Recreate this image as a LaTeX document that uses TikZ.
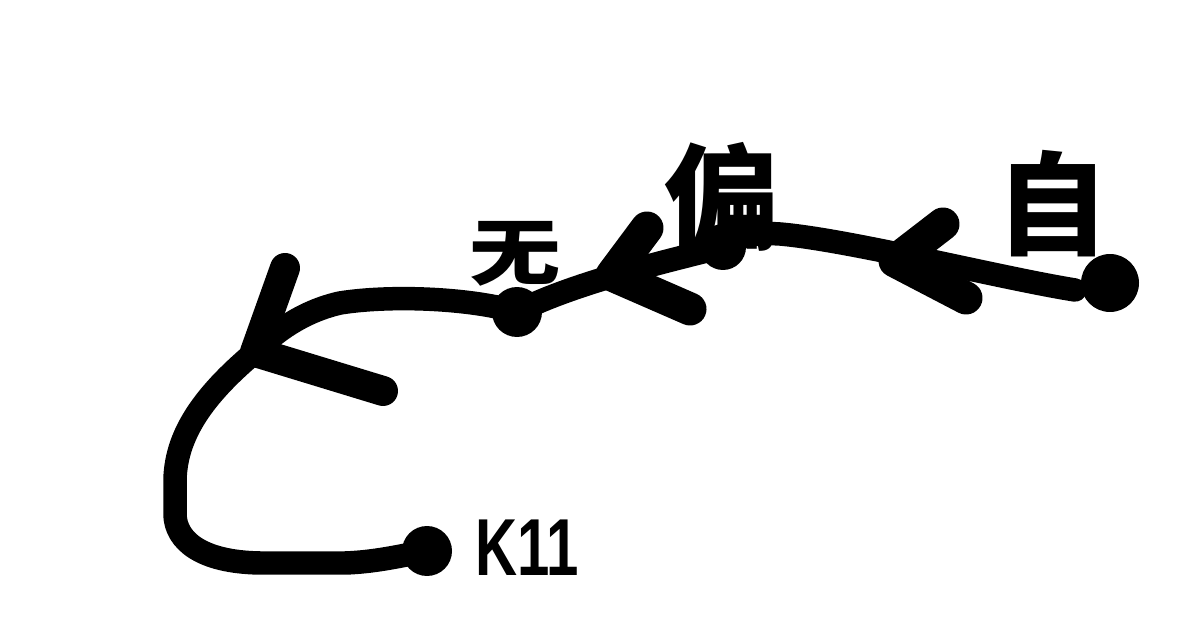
\documentclass[tikz,border=0pt]{standalone}
\usepackage{fontspec}
\newfontfamily\cjk{Noto Sans CJK SC}
\setsansfont{Liberation Sans}
\begin{document}
\begin{tikzpicture}[x=0.02cm,y=-0.02cm,
  stroke/.style={line width=0.47cm,line cap=round,line join=round,black},
  chev/.style={line width=0.66cm,line cap=round,line join=round,black},
  dot/.style={circle,fill=black,inner sep=0pt,minimum size=#1},
  lbl/.style={inner sep=0pt,black}]
\useasboundingbox[fill=white] (0,0) rectangle (1179,641);
% dots
\node[dot=1.16cm] (zi) at (1110,283) {};
\node[dot=0.92cm] (pian) at (723,247) {};
\node[dot=1.0cm] (wu) at (517,312) {};
\node[dot=1.0cm] (k) at (427,551) {};
% chevron coordinates
\coordinate (t1) at (895,261);
\coordinate (a1) at (943,224);
\coordinate (b1) at (966,298);
\coordinate (t2) at (612,275);
\coordinate (a2) at (647,228);
\coordinate (b2) at (690,309);
\coordinate (tip) at (255,352);
\coordinate (a3) at (285,268);
\coordinate (b3) at (383,391);
% path
\draw[stroke] (1075,290) .. controls (1000,278) and (850,240) .. (780,234)
   .. controls (750,232) and (735,238) .. (pian.center);
\draw[stroke] (pian.center) .. controls (650,265) and (570,285) .. (wu.center);
\draw[stroke] (wu.center) .. controls (470,298) and (390,295) .. (340,303)
   .. controls (300,312) and (272,335) .. (tip)
   .. controls (210,390) and (176,430) .. (175,480) -- (175,515)
   .. controls (176,540) and (200,562) .. (260,563) -- (345,563)
   .. controls (375,562) and (400,556) .. (k.center);
% chevrons
\draw[chev] (a1) -- (t1) -- (b1);
\draw[chev] (a2) -- (t2) -- (b2);
\draw[chev,line width=0.6cm] (a3) -- (tip) -- (b3);
% labels
\node[lbl] (lzi) at (1053,204) {\cjk\bfseries\fontsize{64}{64}\selectfont 自};
\node[lbl] (lpian) at (722,197) {\cjk\bfseries\fontsize{66}{66}\selectfont 偏};
\node[lbl] (lwu) at (515,254) {\scalebox{1}[0.8]{\cjk\bfseries\fontsize{52}{52}\selectfont 无}};
\node[lbl] (lk) at (527,548) {\scalebox{0.72}[1]{\sffamily\bfseries\fontsize{46}{46}\selectfont K11}};
\end{tikzpicture}
\end{document}
